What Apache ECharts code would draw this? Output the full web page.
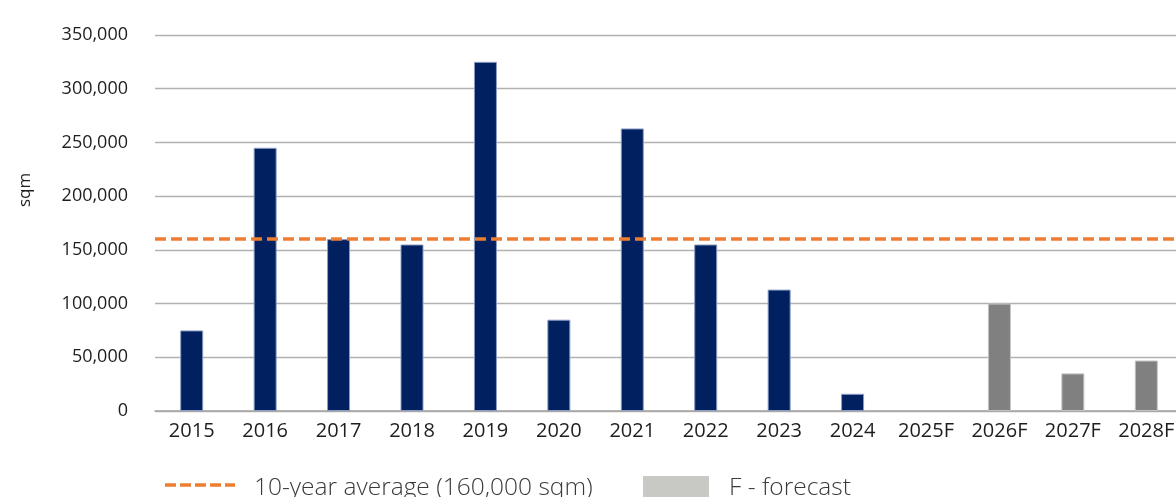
<!DOCTYPE html>
<html>
<head>
<meta charset="utf-8">
<script src="https://cdn.jsdelivr.net/npm/echarts@6/dist/echarts.min.js"></script>
<style>
  html, body { margin: 0; padding: 0; background: #ffffff; overflow: hidden; }
  /* canvas runs a little past the right edge so the last category is cut off */
  #chart { width: 1192px; height: 497px; }
</style>
</head>
<body>
<div id="chart"></div>
<script>
// Annual completions (sqm), actual years then forecast years
const categories = ['2015', '2016', '2017', '2018', '2019', '2020', '2021', '2022', '2023', '2024',
                    '2025F', '2026F', '2027F', '2028F'];
const actualValues = [75000, 245000, 160000, 155000, 325000, 85000, 263000, 155000, 113000, 16000];
const forecastValues = [0, 100000, 35000, 47000];
const averageValue = 160000;
const yTicks = { min: 0, max: 350000, interval: 50000 };
const averageName = '10-year average (160,000 sqm)';
const forecastName = 'F - forecast';

const FONT = "'Open Sans', 'Noto Sans', sans-serif";
const NAVY = '#002060';
const GREY = '#808080';
const ORANGE = '#ED7D31';

// Pad each series so actual and forecast bars sit in their own slots
const actualData = categories.map((c, i) => i < actualValues.length ? actualValues[i] : '-');
const forecastData = categories.map((c, i) => {
  if (i < actualValues.length) return '-';
  const v = forecastValues[i - actualValues.length];
  // a zero bar gets no outline so nothing shows on the axis
  return v === 0 ? { value: v, itemStyle: { borderWidth: 0 } } : v;
});

const chart = echarts.init(document.getElementById('chart'), null, { renderer: 'canvas' });

chart.setOption({
  animation: false,
  backgroundColor: '#ffffff',
  textStyle: { fontFamily: FONT },
  grid: { left: 155, top: 35, width: 1028, height: 376 },
  xAxis: {
    type: 'category',
    data: categories,
    axisLine: { lineStyle: { color: '#a6a4a4', width: 1.5 } },
    axisTick: { show: false },
    axisLabel: { fontFamily: FONT, fontSize: 20, color: '#1e1e1e', margin: 10 }
  },
  yAxis: {
    type: 'value',
    min: yTicks.min,
    max: yTicks.max,
    interval: yTicks.interval,
    axisLine: { show: false },
    axisTick: { show: false },
    splitLine: { lineStyle: { color: '#b4b1b1', width: 1.3 } },
    axisLabel: {
      fontFamily: FONT, fontSize: 18, color: '#1e1e1e', margin: 27,
      formatter: v => v.toLocaleString('en-US')
    }
  },
  graphic: [
    {
      type: 'text',
      x: 25,
      y: 190,
      rotation: Math.PI / 2,
      style: {
        text: 'sqm', fontFamily: FONT, fontSize: 17, fill: '#1e1e1e',
        align: 'center', verticalAlign: 'middle'
      }
    },
    // legend: average line
    {
      type: 'line',
      shape: { x1: 165, y1: 485, x2: 235, y2: 485 },
      style: { stroke: ORANGE, lineWidth: 3.5, lineDash: [11, 4] }
    },
    {
      type: 'text',
      x: 254,
      y: 488,
      style: {
        text: averageName, fontFamily: FONT, fontSize: 24.5, fontWeight: 300,
        fill: '#3a3a3a', verticalAlign: 'middle'
      }
    },
    // legend: forecast swatch
    {
      type: 'rect',
      shape: { x: 643, y: 476, width: 66, height: 21 },
      style: { fill: '#c8c8c4' }
    },
    {
      type: 'text',
      x: 729,
      y: 488,
      style: {
        text: forecastName, fontFamily: FONT, fontSize: 24.5, fontWeight: 300,
        fill: '#3a3a3a', verticalAlign: 'middle'
      }
    }
  ],
  series: [
    {
      name: 'Completions',
      type: 'bar',
      data: actualData,
      barWidth: 23,
      barGap: '-100%',
      itemStyle: { color: NAVY, borderColor: '#8a9cc4', borderWidth: 1 }
    },
    {
      name: forecastName,
      type: 'bar',
      data: forecastData,
      barWidth: 23,
      barGap: '-100%',
      itemStyle: { color: GREY, borderColor: '#c4c4c4', borderWidth: 1 }
    },
    {
      name: averageName,
      type: 'line',
      data: [],
      symbol: 'none',
      z: 5,
      lineStyle: { color: ORANGE, width: 3.5, type: [11, 5] },
      markLine: {
        silent: true,
        symbol: 'none',
        label: { show: false },
        lineStyle: { color: ORANGE, width: 3.5, type: [11, 5] },
        data: [{ yAxis: averageValue }]
      }
    }
  ]
});
</script>
</body>
</html>
